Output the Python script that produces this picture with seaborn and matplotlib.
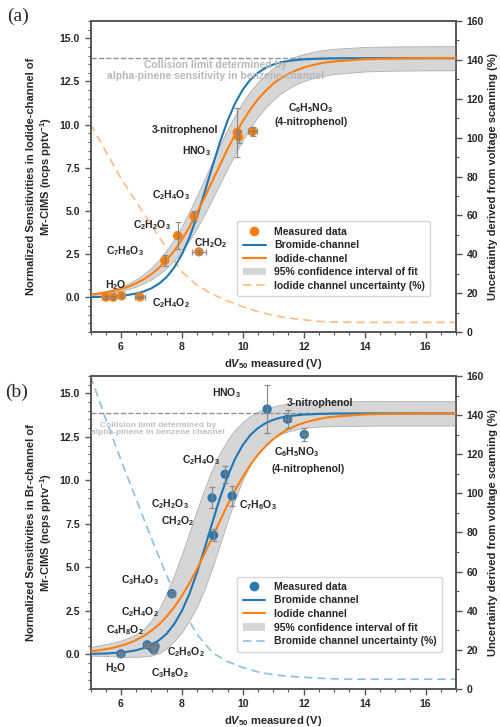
import numpy as np
import pandas as pd
import seaborn as sns
import matplotlib.pyplot as plt
from matplotlib.lines import Line2D
from matplotlib.patches import Patch
from matplotlib.ticker import MultipleLocator

#%% Data

# fitted curves, sampled every 0.25 V up to 13 V
fit_x = [5.0, 5.25, 5.5, 5.75, 6.0, 6.25, 6.5, 6.75, 7.0, 7.25, 7.5, 7.75, 8.0, 8.25, 8.5, 8.75,
         9.0, 9.25, 9.5, 9.75, 10.0, 10.25, 10.5, 10.75, 11.0, 11.25, 11.5, 11.75, 12.0, 12.25,
         12.5, 12.75, 13.0, 14.0, 15.0, 16.0, 17.0]
bromide_fit = [0.02, 0.03, 0.04, 0.07, 0.10, 0.15, 0.23, 0.35, 0.53, 0.80, 1.18, 1.74, 2.49, 3.48,
               4.71, 6.10, 7.57, 8.98, 10.23, 11.25, 12.03, 12.61, 13.01, 13.29, 13.48, 13.61,
               13.69, 13.74, 13.78, 13.80, 13.82, 13.83, 13.84, 13.85, 13.85, 13.85, 13.85]
iodide_fit = [0.17, 0.22, 0.29, 0.37, 0.49, 0.63, 0.82, 1.05, 1.35, 1.71, 2.17, 2.71, 3.35, 4.09,
              4.91, 5.81, 6.74, 7.67, 8.59, 9.44, 10.21, 10.89, 11.48, 11.96, 12.37, 12.69,
              12.95, 13.15, 13.31, 13.43, 13.53, 13.61, 13.66, 13.79, 13.83, 13.85, 13.85]

# 95% confidence bands
ci_a_upper = [0.22, 0.29, 0.37, 0.48, 0.63, 0.81, 1.05, 1.35, 1.72, 2.18, 2.73, 3.38, 4.13, 4.98,
              5.91, 6.88, 7.86, 8.83, 9.74, 10.57, 11.31, 11.94, 12.47, 12.91, 13.27, 13.55,
              13.78, 13.95, 14.09, 14.19, 14.28, 14.34, 14.39, 14.50, 14.53, 14.54, 14.55]
ci_a_lower = [0.13, 0.17, 0.22, 0.29, 0.37, 0.49, 0.63, 0.82, 1.05, 1.34, 1.71, 2.16, 2.69, 3.32,
              4.03, 4.83, 5.69, 6.58, 7.46, 8.32, 9.11, 9.84, 10.46, 10.99, 11.44, 11.81,
              12.10, 12.34, 12.52, 12.66, 12.78, 12.86, 12.93, 13.08, 13.13, 13.14, 13.15]
ci_b_upper = [0.40, 0.50, 0.58, 0.68, 0.79, 0.95, 1.15, 1.45, 1.95, 2.60, 3.50, 4.55, 5.74, 7.02,
              8.31, 9.54, 10.64, 11.57, 12.33, 12.92, 13.37, 13.70, 13.95, 14.12, 14.25, 14.34,
              14.40, 14.45, 14.48, 14.50, 14.52, 14.53, 14.54, 14.55, 14.55, 14.55, 14.55]
ci_b_lower = [-0.08, -0.09, -0.10, -0.12, -0.14, -0.15, -0.15, -0.13, -0.08, 0.05, 0.35, 0.75,
              1.25, 1.95, 2.74, 3.76, 4.97, 6.30, 7.66, 8.93, 10.03, 10.91, 11.58, 12.07, 12.42,
              12.66, 12.82, 12.93, 13.01, 13.06, 13.09, 13.11, 13.12, 13.14, 13.15, 13.15, 13.15]

# uncertainty from voltage scanning (%), every 0.5 V
unc_x = [5.0, 5.5, 6.0, 6.5, 7.0, 7.5, 8.0, 8.5, 9.0, 9.5, 10.0, 10.5, 11.0,
         11.5, 12.0, 12.5, 13.0, 13.5, 14.0, 14.5, 15.0, 15.5, 16.0, 16.5, 17.0]
iodide_unc = [107, 93, 79, 67, 55, 43, 31, 24, 19.5, 16, 13, 10.5, 8.5,
              7.2, 6.3, 5.5, 5.1, 5, 5, 5, 5, 5, 5, 5, 5]
bromide_unc = [160, 138, 117, 97, 77, 58, 41, 28, 18.5, 14, 11, 8.7, 7.3,
               6.5, 6.0, 5.5, 5.2, 5, 5, 5, 5, 5, 5, 5, 5]

collision_limit = 13.88

# measured points, iodide channel (a)
a_x = [5.50, 5.75, 6.02, 6.62, 7.44, 7.86, 8.40, 8.56, 9.82, 9.86, 10.32]
a_y = [0.02, 0.02, 0.10, 0.03, 2.14, 3.58, 4.70, 2.64, 9.55, 9.30, 9.61]
a_yerr = [0.05, 0.05, 0.10, 0.05, 0.30, 0.80, 0.30, 0.10, 1.40, 0.35, 0.25]
a_xerr = [0, 0, 0, 0.17, 0, 0, 0, 0.23, 0, 0, 0.15]

# measured points, bromide channel (b)
b_x = [6.00, 6.86, 7.02, 7.08, 7.12, 7.67, 8.99, 9.04, 9.42, 9.65, 10.80, 11.47, 12.02]
b_y = [0.02, 0.54, 0.38, 0.25, 0.45, 3.48, 8.99, 6.84, 10.35, 9.10, 14.10, 13.52, 12.64]
b_yerr = [0.10, 0.10, 0.10, 0.15, 0.20, 0.15, 0.60, 0.35, 0.48, 0.60, 1.40, 0.53, 0.35]
b_xerr = [0.05, 0.10, 0, 0, 0.05, 0.10, 0, 0, 0, 0, 0, 0.10, 0.08]

a_labels = ["3-nitrophenol", "HNO$_3$", "C$_6$H$_5$NO$_3$\n(4-nitrophenol)", "C$_2$H$_4$O$_3$",
            "C$_2$H$_2$O$_3$", "CH$_2$O$_2$", "C$_7$H$_6$O$_3$", "H$_2$O", "C$_2$H$_4$O$_2$"]
b_labels = ["HNO$_3$", "3-nitrophenol", "C$_6$H$_5$NO$_3$", "(4-nitrophenol)", "C$_2$H$_4$O$_3$",
            "C$_2$H$_2$O$_3$", "CH$_2$O$_2$", "C$_7$H$_6$O$_3$", "C$_3$H$_4$O$_3$", "C$_2$H$_4$O$_2$",
            "C$_4$H$_8$O$_2$", "C$_2$H$_6$O$_2$", "H$_2$O", "C$_3$H$_8$O$_2$"]

#%% Style
sns.set_style('ticks')
plt.rcParams['font.family'] = ['Liberation Sans', 'DejaVu Sans']
plt.rcParams['font.weight'] = 'bold'
plt.rcParams['axes.labelweight'] = 'bold'
plt.rcParams['mathtext.fontset'] = 'custom'
plt.rcParams['mathtext.rm'] = 'Liberation Sans:bold'
plt.rcParams['mathtext.it'] = 'Liberation Sans:bold:italic'
plt.rcParams['mathtext.bf'] = 'Liberation Sans:bold'

blue = '#1f77b4'
orange = '#ff7f0e'
fs = 7.5

fig = plt.figure(figsize=(5, 7.27), dpi=100)
ax_a = fig.add_axes([0.181, 0.5433, 0.731, 0.4278])
ax_b = fig.add_axes([0.181, 0.0523, 0.731, 0.4305])

def style_axes(ax, ax2):
    ax.set_xlim(5, 17)
    ax.set_ylim(-2, 16)
    ax2.set_ylim(0, 160)
    ax.xaxis.set_minor_locator(MultipleLocator(0.5))
    ax.yaxis.set_minor_locator(MultipleLocator(0.5))
    ax2.yaxis.set_major_locator(MultipleLocator(20))
    ax2.yaxis.set_minor_locator(MultipleLocator(10))
    ax.set_xticks([6, 8, 10, 12, 14, 16])
    ax.set_yticks([0, 2.5, 5, 7.5, 10, 12.5, 15])
    ax.set_yticklabels(['0.0', '2.5', '5.0', '7.5', '10.0', '12.5', '15.0'])
    for a in (ax, ax2):
        a.tick_params(which='major', length=4, width=1, labelsize=fs, color='#555555')
        a.tick_params(which='minor', length=2, width=0.8, color='#555555')
        for s in a.spines.values():
            s.set_color('#555555')
            s.set_linewidth(1.2)
    ax.set_xlabel(r'd$\mathit{V}_{50}$ measured (V)', fontsize=fs + 0.5, labelpad=3)
    ax2.set_ylabel('Uncertainty derived from voltage scanning (%)', fontsize=fs + 0.5, labelpad=3)

def draw_panel(ax, px, py, pxerr, pyerr, pcol, lo, hi, unc, unc_col):
    ax2 = ax.twinx()
    ax.fill_between(fit_x, lo, hi, color='#d6d6d6', edgecolor='#b0b0b0', lw=0.6, zorder=1)
    sns.lineplot(x=fit_x, y=bromide_fit, ax=ax, color=blue, lw=1.5, zorder=3)
    sns.lineplot(x=fit_x, y=iodide_fit, ax=ax, color=orange, lw=1.5, zorder=3)
    ax.axhline(collision_limit, color='#909090', ls='--', lw=1, zorder=2)
    sns.scatterplot(x=px, y=py, ax=ax, color=pcol, s=45, edgecolor='none', zorder=4)
    ax.errorbar(px, py, yerr=pyerr, xerr=pxerr, fmt='none', ecolor='#808080',
                elinewidth=0.9, capsize=2.5, capthick=0.9, alpha=0.85, zorder=5)
    sns.lineplot(x=unc_x, y=unc, ax=ax2, color=unc_col, lw=1.2, ls=(0, (5, 3)))
    style_axes(ax, ax2)
    ax.set_zorder(ax2.get_zorder() + 1)
    ax.patch.set_visible(False)
    return ax2

#%% Panel (a)
draw_panel(ax_a, a_x, a_y, a_xerr, a_yerr, orange, ci_a_lower, ci_a_upper, iodide_unc, '#ffbb85')
ax_a.set_ylabel('Normalized Sensitivities in Iodide-channel of\nMr-CIMS (ncps pptv$^{-1}$)', fontsize=fs + 0.5)
ax_a.text(9.1, 13.15, 'Collision limit determined by\nalpha-pinene sensitivity in benzene channel',
          ha='center', va='center', fontsize=7.5, color='#b8b8b8', linespacing=1.1)
pos_a = [(8.1, 9.7), (8.47, 8.46), (12.24, 10.6), (7.64, 5.95), (7.03, 4.16), (8.95, 3.12),
         (6.13, 2.68), (5.83, 0.69), (7.64, -0.35)]
for (tx, ty), lab in zip(pos_a, a_labels):
    ax_a.text(tx, ty, lab, ha='center', va='center', fontsize=fs, linespacing=1.3)

h_a = [Line2D([], [], marker='o', ls='none', color=orange, markersize=6),
       Line2D([], [], color=blue, lw=1.5), Line2D([], [], color=orange, lw=1.5),
       Patch(facecolor='#d6d6d6', edgecolor='none'),
       Line2D([], [], color='#ffbb85', lw=1.2, ls=(0, (5, 3)))]
ax_a.legend(h_a, ['Measured data', 'Bromide-channel', 'Iodide-channel',
                  '95% confidence interval of fit', 'Iodide channel uncertainty (%)'],
            loc='lower right', bbox_to_anchor=(0.943, 0.098), fontsize=fs, frameon=True,
            handlelength=2.2, borderpad=0.5, labelspacing=0.35, edgecolor='#cccccc')

#%% Panel (b)
draw_panel(ax_b, b_x, b_y, b_xerr, b_yerr, '#2e78b0', ci_b_lower, ci_b_upper, bromide_unc, '#8dbfe3')
ax_b.set_ylabel('Normalized Sensitivities in Br-channel of\nMr-CIMS (ncps pptv$^{-1}$)', fontsize=fs + 0.5)
ax_b.text(7.22, 12.95, 'Collision limit determined by\nalpha-pinene in benzene channel',
          ha='center', va='center', fontsize=6, color='#c0c0c0', linespacing=1.1)
pos_b = [(9.47, 15.0), (12.55, 14.42), (11.77, 11.64), (12.13, 10.64), (8.63, 11.16),
         (7.62, 8.66), (7.85, 7.66), (10.5, 8.57), (6.62, 4.29), (6.62, 2.42),
         (6.13, 1.4), (8.13, 0.12), (5.83, -0.8), (7.62, -1.09)]
for (tx, ty), lab in zip(pos_b, b_labels):
    ax_b.text(tx, ty, lab, ha='center', va='center', fontsize=fs)

h_b = [Line2D([], [], marker='o', ls='none', color='#2e78b0', markersize=6),
       Line2D([], [], color=blue, lw=1.5), Line2D([], [], color=orange, lw=1.5),
       Patch(facecolor='#d6d6d6', edgecolor='none'),
       Line2D([], [], color='#8dbfe3', lw=1.2, ls=(0, (5, 3)))]
ax_b.legend(h_b, ['Measured data', 'Bromide channel', 'Iodide channel',
                  '95% confidence interval of fit', 'Bromide channel uncertainty (%)'],
            loc='lower right', bbox_to_anchor=(0.975, 0.103), fontsize=fs, frameon=True,
            handlelength=2.2, borderpad=0.5, labelspacing=0.35, edgecolor='#cccccc')

fig.text(0.014, 0.978, '(a)', fontsize=14, family='Liberation Serif', weight='normal', va='center')
fig.text(0.01, 0.46, '(b)', fontsize=14, family='Liberation Serif', weight='normal', va='center')

fig.savefig('out.png', dpi=100)
